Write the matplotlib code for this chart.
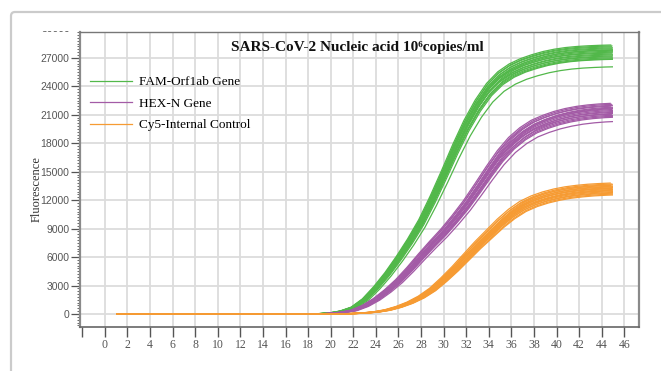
import matplotlib
matplotlib.use("Agg")
import matplotlib.pyplot as plt
import numpy as np
from matplotlib.patches import FancyBboxPatch, Rectangle
from matplotlib.transforms import Bbox, TransformedBbox

# amplification cycles
cycles = np.arange(1, 46)

# typical (band-centre) profile of each dye, read per cycle
fam_profile = [0] * 18 + [30, 100, 300, 700, 1550, 2800, 4250, 5900, 7700, 9700,
                          12100, 14700, 17400, 19900, 22000, 23700, 24900, 25700,
                          26250, 26650, 26980, 27220, 27390, 27500, 27570, 27620, 27650]
hex_profile = [0] * 18 + [10, 60, 170, 380, 850, 1550, 2450, 3500, 4750, 6100,
                          7400, 8650, 10050, 11550, 13250, 15000, 16650, 18000,
                          19000, 19750, 20250, 20650, 20950, 21170, 21320, 21420, 21480]
cy5_profile = [0] * 19 + [10, 20, 50, 110, 220, 420, 750, 1200, 1800, 2600,
                          3650, 4800, 6050, 7300, 8450, 9600, 10600, 11400, 11950,
                          12350, 12650, 12870, 13020, 13130, 13200, 13250]

# end-point fluorescence of each well (cycle 45)
fam_plateau = [28350, 28250, 28150, 28050, 27950, 27850, 27800, 27700, 27600,
               27500, 27400, 27300, 27200, 27100, 27000, 26900, 26850, 26060]
hex_plateau = [22200, 22100, 22000, 21900, 21800, 21700, 21650, 21550, 21450,
               21350, 21250, 21150, 21050, 20950, 20850, 20750, 20300]
cy5_plateau = [13800, 13700, 13620, 13550, 13480, 13400, 13330, 13260, 13200,
               13130, 13060, 12980, 12900, 12820, 12740, 12650, 12560]

# Ct offset of each well against the typical profile (cycles)
fam_shift = [-0.2, -0.1, -0.15, 0.0, -0.1, 0.1, -0.05, 0.05, 0.15,
             -0.15, 0.1, 0.0, 0.2, -0.1, 0.1, 0.15, 0.25, 0.35]
hex_shift = [-0.25, -0.15, 0.0, -0.2, 0.1, -0.05, 0.15, -0.1, 0.05,
             0.2, 0.0, 0.25, -0.15, 0.1, 0.2, 0.25, 0.35]
cy5_shift = [-0.25, -0.1, 0.05, -0.2, 0.1, -0.05, 0.2, 0.0, -0.15,
             0.15, 0.25, -0.1, 0.05, 0.2, 0.1, 0.25, 0.3]

dyes = [
    ("FAM-Orf1ab Gene", "#52b84a", fam_profile, fam_plateau, fam_shift),
    ("HEX-N Gene", "#a35ba6", hex_profile, hex_plateau, hex_shift),
    ("Cy5-Internal Control", "#f69b33", cy5_profile, cy5_plateau, cy5_shift),
]

x_ticks = list(range(-2, 47, 2))
y_ticks = list(range(0, 27001, 3000))

fig = plt.figure(figsize=(6.61, 3.71), dpi=100)
fig.patch.set_facecolor("white")

# rounded panel border
frame = FancyBboxPatch((0.11, -0.5), 7.0, 3.59 + 0.5,
                       boxstyle="round,pad=0,rounding_size=0.04",
                       transform=fig.dpi_scale_trans, facecolor="none",
                       edgecolor="#cbcbcb", linewidth=1.6, zorder=0)
fig.patches.append(frame)

ax = fig.add_axes([0.121, 0.1186, 0.8457, 0.795])
ax.set_xlim(-2.2, 47.3)
ax.set_ylim(-1370, 29715)

clip = Rectangle((1, -1e5), 44, 2e5, transform=ax.transData)
for label, color, profile, plateau, shift in dyes:
    profile = np.array(profile, dtype=float)
    for k, (p, s) in enumerate(zip(plateau, shift)):
        line, = ax.plot(cycles + s, profile * p / profile[-1], color=color,
                        lw=0.9, zorder=3, label=label if k == 0 else None)
        line.set_clip_path(clip)

ax.set_xticks(x_ticks)
ax.set_xticklabels(["" if t < 0 else str(t) for t in x_ticks],
                   family="Liberation Serif", fontsize=8.5, color="#555555")
ax.set_yticks(y_ticks)
ax.set_yticklabels([str(t) for t in y_ticks],
                   family="Liberation Sans", fontsize=7.5, color="#555555")
ax.set_yticks(np.arange(-1200, 29701, 300), minor=True)
ax.tick_params(axis="x", direction="out", length=7, width=1, color="#555555", pad=2)
ax.tick_params(axis="y", which="major", direction="out", length=6.5, width=0.9,
               color="#555555", pad=1)
ax.tick_params(axis="y", which="minor", direction="out", length=2.2, width=0.7,
               color="#666666")

ax.grid(True, which="major", color="#dcdcdc", lw=1.3, zorder=1)
ax.xaxis.get_gridlines()[0].set_visible(False)
ax.set_axisbelow(True)

for side, (c, w) in {"left": ("#8a8a8a", 1.6), "bottom": ("#666666", 1.2),
                     "top": ("#777777", 1.0), "right": ("#8a8a8a", 1.6)}.items():
    ax.spines[side].set_color(c)
    ax.spines[side].set_linewidth(w)

# 30000 label cut by the top of the plot area
cut = ax.text(-0.018, 30000, "30000", transform=ax.get_yaxis_transform(),
              ha="right", va="center", family="Liberation Sans", fontsize=7.5,
              color="#555555", clip_on=True)
cut.set_clip_box(TransformedBbox(Bbox([[0, 0], [0.12, 0.9164]]), fig.transFigure))

ax.set_ylabel("Fluorescence", family="Liberation Serif", fontsize=9, color="#333333")
ax.yaxis.set_label_coords(-0.066, 0.466)

ax.text(0.497, 0.949, "SARS-CoV-2 Nucleic acid 10\u2076copies/ml",
        transform=ax.transAxes, ha="center", va="center",
        family=["Liberation Serif", "DejaVu Serif"], fontweight="bold",
        fontsize=11, color="#111111")

ax.legend(loc="upper left", bbox_to_anchor=(0.0179, 0.851), frameon=False,
          borderpad=0, borderaxespad=0, handlelength=3.2, handletextpad=0.55,
          labelspacing=0.7, prop={"family": "Liberation Serif", "size": 9.5})

fig.savefig("out.png", dpi=100, facecolor="white")
